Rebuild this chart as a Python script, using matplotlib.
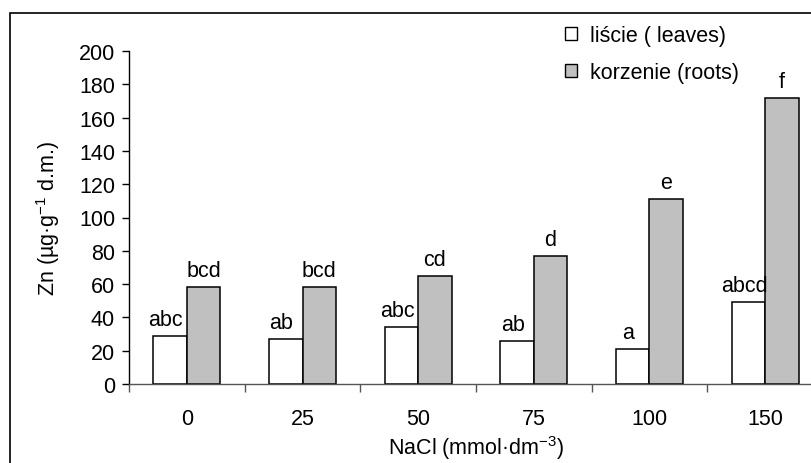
import matplotlib
matplotlib.use('Agg')
import matplotlib.pyplot as plt
import numpy as np
from matplotlib.patches import Patch, Rectangle

plt.rcParams['font.family'] = ['Liberation Sans', 'DejaVu Sans']
plt.rcParams['mathtext.fontset'] = 'custom'
plt.rcParams['mathtext.rm'] = 'Liberation Sans'
plt.rcParams['mathtext.it'] = 'Liberation Sans:italic'

nacl = ['0', '25', '50', '75', '100', '150']
leaves = [29, 27, 34, 26, 21, 49]
roots = [58, 58, 65, 77, 111, 172]
leaves_letters = ['abc', 'ab', 'abc', 'ab', 'a', 'abcd']
roots_letters = ['bcd', 'bcd', 'cd', 'd', 'e', 'f']

FS = 15.5

fig = plt.figure(figsize=(8.11, 4.64), dpi=100)
ax = fig.add_axes([129/811, 1 - 385/464, 694/811, 333/464])

x = np.arange(len(nacl))
w = 0.29
b1 = ax.bar(x - w/2, leaves, w, color='white', edgecolor='black', lw=1.1)
b2 = ax.bar(x + w/2, roots, w, color='#c0c0c0', edgecolor='black', lw=1.1)

# letters: leaves ones nudged a bit left so they clear the grey bar
for bars, letters, dx in [(b1, leaves_letters, -3), (b2, roots_letters, 0)]:
    for rect, lab in zip(bars, letters):
        ax.annotate(lab, (rect.get_x() + rect.get_width()/2, rect.get_height()),
                    xytext=(dx, 8), textcoords='offset points', ha='center', va='baseline',
                    fontsize=FS)

ax.set_xlim(-0.5, len(nacl) - 0.5)
ax.set_ylim(0, 200)
ax.set_yticks(range(0, 201, 20))
ax.set_xticks(x)
ax.set_xticklabels(nacl)
ax.set_xticks(np.arange(-0.5, len(nacl), 1), minor=True)
ax.tick_params(axis='x', which='major', length=0, pad=17, labelsize=FS)
ax.tick_params(axis='x', which='minor', length=6, color='#555555', width=1)
ax.tick_params(axis='y', length=5, width=1, labelsize=FS, pad=5)

ax.spines['top'].set_visible(False)
ax.spines['right'].set_visible(False)
ax.spines['left'].set_linewidth(1)
ax.spines['bottom'].set_color('#555555')
ax.spines['bottom'].set_linewidth(1)

ax.set_xlabel('NaCl (mmol·dm$^{-3}$)', fontsize=FS, labelpad=3)
ax.set_ylabel('Zn (µg·g$^{-1}$ d.m.)', fontsize=FS, labelpad=12)

handles = [Patch(facecolor='white', edgecolor='black', lw=1),
           Patch(facecolor='#c0c0c0', edgecolor='black', lw=1)]
fig.legend(handles, ['liście ( leaves)', 'korzenie (roots)'], loc='upper left',
           bbox_to_anchor=(565/811, 1 - 26/464), bbox_transform=fig.transFigure,
           frameon=False, fontsize=FS, handlelength=0.55, handleheight=0.55,
           handletextpad=0.6, labelspacing=0.75, borderpad=0, borderaxespad=0)

fig.patches.append(Rectangle((10/811, -0.1), 1.1, 1 - 14/464 + 0.1, transform=fig.transFigure,
                             fill=False, edgecolor='black', lw=1.2))

fig.savefig('out.png', dpi=100)
